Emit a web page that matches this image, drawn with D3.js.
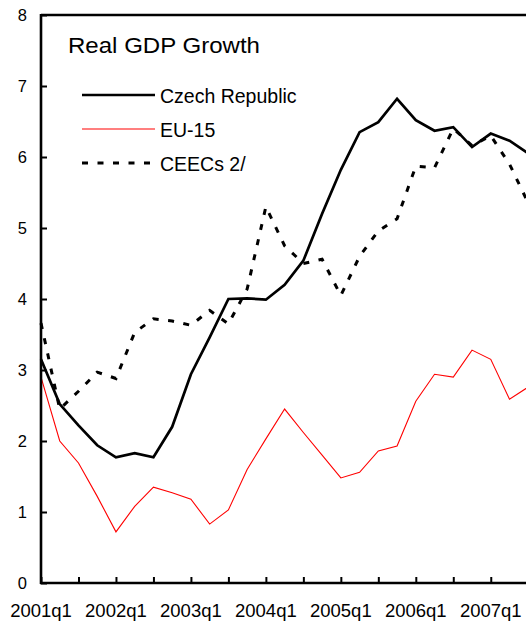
<!DOCTYPE html>
<html>
<head>
<meta charset="utf-8">
<script src="https://cdn.jsdelivr.net/npm/d3@7"></script>
<style>
html,body{margin:0;padding:0;background:#fff;}
svg{display:block;font-family:"Liberation Sans",Arial,sans-serif;}
</style>
</head>
<body>
<svg id="chart" width="526" height="625"></svg>
<script>
// ---- data ----
const quarters = ["2001q1","2001q2","2001q3","2001q4","2002q1","2002q2","2002q3","2002q4",
  "2003q1","2003q2","2003q3","2003q4","2004q1","2004q2","2004q3","2004q4",
  "2005q1","2005q2","2005q3","2005q4","2006q1","2006q2","2006q3","2006q4",
  "2007q1","2007q2","2007q3"];
const tickQuarters = ["2001q1","2001q3","2002q1","2002q3","2003q1","2003q3","2004q1","2004q3",
  "2005q1","2005q3","2006q1","2006q3","2007q1","2007q3"];
const tickLabels = ["2001q1","2002q1","2003q1","2004q1","2005q1","2006q1","2007q1"];
const yTicks = [0,1,2,3,4,5,6,7,8];
const czech = [3.15,2.52,2.22,1.94,1.77,1.83,1.77,2.2,2.94,3.46,4.0,4.01,3.99,4.2,4.54,5.2,5.82,6.35,6.49,6.82,6.52,6.37,6.42,6.14,6.33,6.23,6.05];
const eu15  = [2.9,2.0,1.69,1.22,0.72,1.08,1.35,1.27,1.18,0.83,1.03,1.6,2.03,2.45,2.12,1.8,1.48,1.56,1.86,1.93,2.56,2.94,2.9,3.28,3.15,2.59,2.76];
const ceec  = [3.66,2.45,2.7,2.97,2.88,3.53,3.72,3.69,3.63,3.84,3.65,4.14,5.3,4.75,4.5,4.56,4.05,4.6,4.96,5.13,5.87,5.85,6.4,6.16,6.3,5.9,5.35];
const seriesNames = ["Czech Republic","EU-15","CEECs 2/"];
const chartTitle = "Real GDP Growth";

// ---- layout ----
const svg = d3.select("#chart");
const pLeft = 41, pTop = 15, pBottom = 583;
const x = d3.scalePoint().domain(quarters).range([pLeft, pLeft + 18.74*26]);
const y = d3.scaleLinear().domain([0,8]).range([pBottom, pTop]);

const series = [
  {name: seriesNames[0], values: czech, color:"#000", width:2.7, dash:null},
  {name: seriesNames[1], values: eu15, color:"#ff0000", width:1.1, dash:null},
  {name: seriesNames[2], values: ceec, color:"#000", width:3, dash:"6,9.5"}
];

const line = d3.line().x((d,i)=>x(quarters[i])).y(d=>y(d));

[series[2], series[1], series[0]].forEach(s=>{
  svg.append("path").datum(s.values)
    .attr("d", line)
    .attr("fill","none")
    .attr("stroke", s.color)
    .attr("stroke-width", s.width)
    .attr("stroke-linejoin","miter")
    .attr("stroke-dasharray", s.dash);
});

// y axis
const yAxis = svg.append("g").attr("transform",`translate(${pLeft},0)`)
  .call(d3.axisRight(y).tickValues(yTicks).tickSize(6).tickFormat(""));
yAxis.select(".domain").remove();
yAxis.selectAll("line").attr("stroke","#000").attr("stroke-width",2);
svg.append("line").attr("x1",pLeft).attr("x2",pLeft).attr("y1",pTop-1).attr("y2",pBottom+1)
  .attr("stroke","#000").attr("stroke-width",2.6);
svg.selectAll(".ylab").data(yTicks).enter().append("text")
  .attr("x",27).attr("y",d=>y(d)).attr("dy","0.36em")
  .attr("text-anchor","end").attr("font-size",16.5).attr("fill","#000")
  .text(d=>d);

// top frame
svg.append("line").attr("x1",pLeft).attr("x2",526).attr("y1",pTop).attr("y2",pTop)
  .attr("stroke","#000").attr("stroke-width",2.6);

// x axis
const xAxis = svg.append("g").attr("transform",`translate(0,${pBottom})`)
  .call(d3.axisTop(x).tickValues(tickQuarters).tickSize(6).tickFormat(""));
xAxis.select(".domain").remove();
xAxis.selectAll("line").attr("stroke","#000").attr("stroke-width",2);
svg.append("line").attr("x1",pLeft-1).attr("x2",526).attr("y1",pBottom).attr("y2",pBottom)
  .attr("stroke","#000").attr("stroke-width",2.6);
svg.selectAll(".xlab").data(tickLabels).enter().append("text")
  .attr("x",d=>x(d)).attr("y",617)
  .attr("text-anchor","middle").attr("font-size",18.5).attr("fill","#000")
  .text(d=>d);

// title
svg.append("text").attr("x",68).attr("y",53).attr("font-size",21.5).attr("fill","#000")
  .attr("textLength",192).attr("lengthAdjust","spacingAndGlyphs")
  .text(chartTitle);

// legend
const legY = [95,129,163];
series.forEach((s,i)=>{
  svg.append("line").attr("x1",82).attr("x2",155).attr("y1",legY[i]).attr("y2",legY[i])
    .attr("stroke",s.color).attr("stroke-width",s.width).attr("stroke-dasharray",s.dash);
  svg.append("text").attr("x",160).attr("y",legY[i]+7.5)
    .attr("font-size",19.5).attr("fill","#000").text(s.name);
});
</script>
</body>
</html>
